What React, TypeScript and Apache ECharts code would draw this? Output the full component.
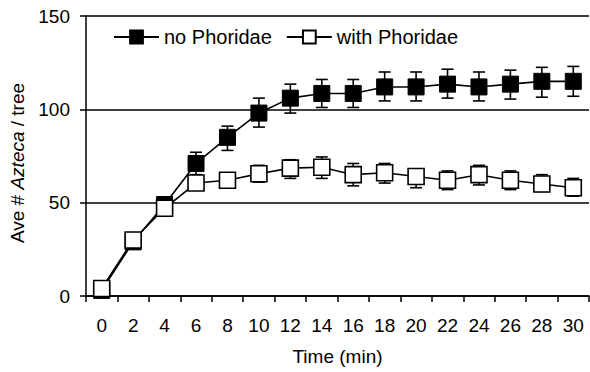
import React, { useEffect, useRef } from "react";
import * as echarts from "echarts";

const times = ["0", "2", "4", "6", "8", "10", "12", "14", "16", "18", "20", "22", "24", "26", "28", "30"];
const noPhoridae = [3, 29, 49, 71, 85, 98, 106, 108.5, 108.5, 112, 112, 113.5, 112, 113.5, 115, 115];
const noPhoridaeLow = [3, 29, 49, 65, 78, 90.5, 98, 101, 101, 104.5, 104.5, 106, 104.5, 105.5, 106.5, 107];
const noPhoridaeHigh = [3, 29, 49, 77, 91, 106, 113.5, 116, 116, 120, 120, 121.5, 120, 121, 122.5, 123];
const withPhoridae = [4, 30, 47, 60.5, 62, 65.5, 68.5, 69, 65, 66, 64, 62, 65, 62, 60, 58];
const withPhoridaeLow = [4, 30, 47, 57, 59, 61, 63, 63, 59, 60.5, 58, 57, 59.5, 57, 56, 53.5];
const withPhoridaeHigh = [4, 30, 47, 64, 65, 70, 73, 74.5, 71, 71, 67.5, 67, 70, 67, 65, 63];

const FONT = "'Liberation Sans', Arial, sans-serif";

function errorSeries(low: number[], high: number[], z: number) {
  return {
    type: "custom",
    z,
    silent: true,
    data: low.map((l, i) => [i, l, high[i]]),
    renderItem: (params: any, api: any) => {
      const x = api.value(0);
      const lo = api.coord([x, api.value(1)]);
      const hi = api.coord([x, api.value(2)]);
      const cap = 6;
      const style = { stroke: "#000", lineWidth: 1.6 };
      return {
        type: "group",
        children: [
          { type: "line", shape: { x1: lo[0], y1: lo[1], x2: hi[0], y2: hi[1] }, style },
          { type: "line", shape: { x1: hi[0] - cap, y1: hi[1], x2: hi[0] + cap, y2: hi[1] }, style },
          { type: "line", shape: { x1: lo[0] - cap, y1: lo[1], x2: lo[0] + cap, y2: lo[1] }, style },
        ],
      };
    },
  };
}

export default function App() {
  const ref = useRef<HTMLDivElement>(null);
  useEffect(() => {
    const chart = echarts.init(ref.current!, null, { renderer: "svg" });
    chart.setOption({
      animation: false,
      textStyle: { fontFamily: FONT },
      grid: { left: 86, right: 1, top: 16, bottom: 76 },
      legend: {
        data: ["no Phoridae", "with Phoridae"],
        left: 113,
        top: 27,
        padding: 0,
        itemWidth: 45,
        itemHeight: 16,
        itemGap: 14,
        textStyle: { fontSize: 20, color: "#000", fontFamily: FONT },
      },
      xAxis: {
        type: "category",
        data: times,
        boundaryGap: true,
        name: "Time (min)",
        nameLocation: "middle",
        nameGap: 51,
        nameTextStyle: { fontSize: 19, color: "#000", fontFamily: FONT },
        axisLine: { lineStyle: { color: "#000", width: 1.5 } },
        axisTick: { show: true, length: 6, inside: false, lineStyle: { color: "#000", width: 1.5 } },
        axisLabel: { color: "#000", fontSize: 19, margin: 20, fontFamily: FONT, interval: 0 },
        splitLine: { show: false },
      },
      yAxis: {
        type: "value",
        min: 0,
        max: 150,
        interval: 50,
        name: "{a|Ave # }{b|Azteca}{a| / tree}",
        nameLocation: "middle",
        nameGap: 49,
        nameTextStyle: {
          color: "#000",
          fontSize: 19,
          fontFamily: FONT,
          padding: [0, 14, 0, 0],
          rich: {
            a: { fontSize: 19, color: "#000", fontFamily: FONT },
            b: { fontSize: 19, color: "#000", fontFamily: FONT, fontStyle: "italic" },
          },
        },
        axisLine: { show: true, lineStyle: { color: "#000", width: 1.5 } },
        axisTick: { show: true, length: 6, lineStyle: { color: "#000", width: 1.5 } },
        axisLabel: { color: "#000", fontSize: 19, margin: 16, fontFamily: FONT },
        splitLine: { show: true, lineStyle: { color: "#000", width: 1.5 } },
      },
      series: [
        errorSeries(noPhoridaeLow, noPhoridaeHigh, 2),
        {
          name: "no Phoridae",
          type: "line",
          data: noPhoridae,
          z: 3,
          symbol: "rect",
          symbolSize: 16,
          showAllSymbol: true,
          lineStyle: { color: "#000", width: 1.6 },
          itemStyle: { color: "#000", borderColor: "#000", borderWidth: 1 },
        },
        errorSeries(withPhoridaeLow, withPhoridaeHigh, 4),
        {
          name: "with Phoridae",
          type: "line",
          data: withPhoridae,
          z: 5,
          symbol: "rect",
          symbolSize: 16,
          showAllSymbol: true,
          lineStyle: { color: "#000", width: 1.6 },
          itemStyle: { color: "#fff", borderColor: "#000", borderWidth: 1.6 },
        },
      ],
    });
    return () => chart.dispose();
  }, []);
  return <div ref={ref} style={{ width: 590, height: 372, position: "absolute", left: 0, top: 0 }} />;
}
